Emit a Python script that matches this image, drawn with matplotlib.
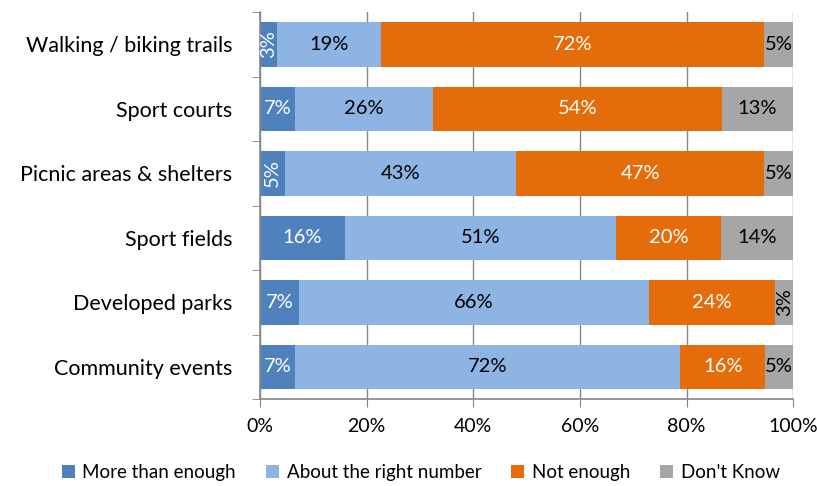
import numpy as np
import matplotlib.pyplot as plt
from matplotlib.ticker import PercentFormatter

plt.rcParams['font.family'] = ['Lato', 'DejaVu Sans']

categories = ['Walking / biking trails', 'Sport courts', 'Picnic areas & shelters',
              'Sport fields', 'Developed parks', 'Community events']
series = ['More than enough', 'About the right number', 'Not enough', "Don't Know"]
more_than_enough = [3.3, 6.6, 4.7, 16.0, 7.3, 6.6]
about_right = [19.4, 25.8, 43.3, 50.8, 65.7, 72.2]
not_enough = [71.9, 54.2, 46.6, 19.6, 23.6, 15.9]
dont_know = [5.4, 13.4, 5.4, 13.6, 3.4, 5.3]

colors = ['#4F81BD', '#8EB4E3', '#E46C0A', '#A6A6A6']
text_colors = ['white', 'black', 'white', 'black']

fig = plt.figure(figsize=(8.17, 4.86), dpi=100)
ax = fig.add_axes([0.318, 0.179, 0.653, 0.796])

y = np.arange(len(categories))
left = np.zeros(len(categories))
for name, vals, c, tc in zip(series, [more_than_enough, about_right, not_enough, dont_know],
                             colors, text_colors):
    vals = np.array(vals)
    ax.barh(y, vals, left=left, height=0.69, color=c, label=name, zorder=2)
    for yi, l, v in zip(y, left, vals):
        lab = '%d%%' % round(v)
        rot = 90 if v < 5 else 0
        ax.text(l + v / 2, yi, lab, ha='center', va='center', color=tc,
                fontsize=14.5, rotation=rot, zorder=3)
    left = left + vals

ax.set_xlim(0, 100)
ax.set_ylim(len(categories) - 0.5, -0.5)
ax.set_yticks(y)
ax.set_yticklabels(categories, fontsize=15.5)
ax.set_yticks(np.arange(-0.5, len(categories), 1), minor=True)
ax.tick_params(axis='y', which='major', length=0, pad=20)
ax.tick_params(axis='y', which='minor', length=6, color='#868686')
ax.set_xticks(np.arange(0, 101, 20))
ax.xaxis.set_major_formatter(PercentFormatter(decimals=0))
ax.tick_params(axis='x', labelsize=14, length=6, color='#868686', pad=8)
ax.grid(axis='x', color='#868686', linewidth=1, zorder=0)
for s in ['top', 'right']:
    ax.spines[s].set_visible(False)
for s in ['left', 'bottom']:
    ax.spines[s].set_color('#868686')
    ax.spines[s].set_linewidth(1.2)

fig.legend(loc='lower center', bbox_to_anchor=(0.515, -0.025), ncol=4, frameon=False,
           fontsize=13.5, handlelength=0.7, handleheight=0.7, handletextpad=0.4,
           columnspacing=1.6)

fig.savefig('out.png', dpi=100)
